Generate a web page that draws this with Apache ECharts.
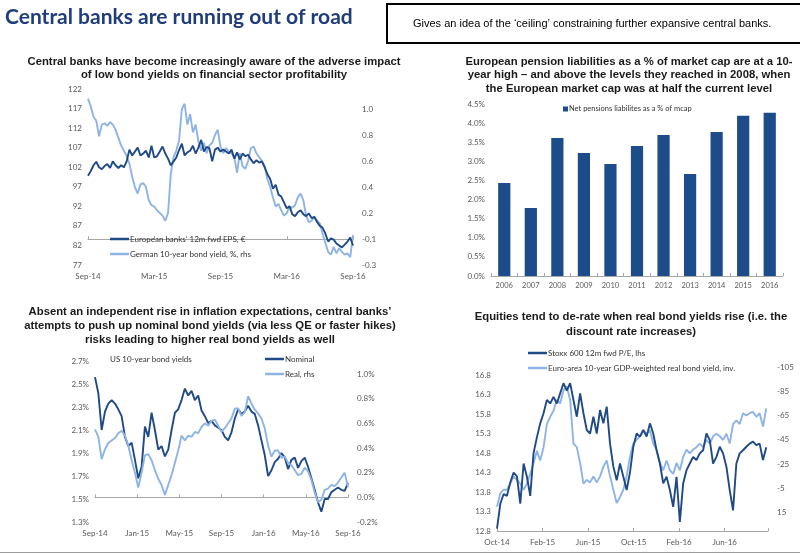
<!DOCTYPE html>
<html>
<head>
    <meta charset="utf-8">
    <title>Central banks are running out of road</title>
    <script src="https://cdn.jsdelivr.net/npm/echarts@6/dist/echarts.min.js"></script>
    <style>
        html, body { margin: 0; padding: 0; background: #fff; }
        #main { width: 800px; height: 554px; }
    </style>
</head>
<body>
    <div id="main"></div>

    <script>
        // ---- top-left: European banks EPS vs German 10y yield (weekly, from Sep-14) ----
        var epsLabels = ['Sep-14', 'Mar-15', 'Sep-15', 'Mar-16', 'Sep-16'];
        var rhs1Labels = ['-0.3', '-0.1', '0.2', '0.4', '0.6', '0.8', '1.0'];
        var bankEps = [
            99.8, 101.0, 102.5, 103.4, 102.0, 101.5, 102.3, 102.8, 101.8, 103.5,
            102.5, 101.8, 102.5, 102.0, 103.5, 106.5, 105.0, 106.0, 107.0, 105.0,
            105.5, 106.2, 104.5, 107.5, 104.5, 104.8, 106.0, 107.3, 105.5, 104.2,
            102.5, 103.5, 104.5, 106.4, 108.0, 105.0, 105.8, 106.2, 107.5, 105.5,
            107.0, 109.0, 106.0, 107.2, 106.8, 103.5, 106.5, 107.0, 106.0, 106.5,
            106.0, 105.5, 106.5, 104.2, 105.8, 104.0, 105.5, 104.8, 105.2, 104.0,
            103.0, 103.8, 103.2, 103.5, 102.0, 100.2, 99.0, 96.5, 97.5, 95.0,
            94.5, 93.0, 91.5, 92.0, 90.0, 89.5, 90.5, 91.0, 90.0, 89.5,
            90.2, 89.0, 89.3, 88.0, 87.0, 86.5, 85.0, 83.0, 83.8, 83.5,
            82.5, 82.0, 81.5, 82.2, 83.0, 84.0, 82.0
        ];
        var bundYield = [
            1.08, 1.02, 0.94, 0.91, 0.79, 0.88, 0.89, 0.87, 0.90, 0.88,
            0.84, 0.78, 0.72, 0.68, 0.64, 0.58, 0.48, 0.40, 0.35, 0.42,
            0.43, 0.40, 0.30, 0.26, 0.25, 0.22, 0.20, 0.18, 0.14, 0.20,
            0.50, 0.63, 0.68, 0.76, 1.00, 1.04, 0.88, 0.96, 0.82, 0.88,
            0.75, 0.68, 0.74, 0.66, 0.72, 0.74, 0.80, 0.84, 0.71, 0.66,
            0.70, 0.67, 0.66, 0.63, 0.51, 0.66, 0.56, 0.54, 0.60, 0.70,
            0.71, 0.66, 0.63, 0.60, 0.56, 0.46, 0.40, 0.32, 0.25, 0.27,
            0.22, 0.18, 0.20, 0.25, 0.24, 0.26, 0.32, 0.35, 0.30, 0.18,
            0.13, 0.14, 0.17, 0.14, 0.12, 0.04, -0.03, -0.10, -0.12, -0.06,
            -0.11, -0.07, -0.10, -0.12, -0.11, -0.14, 0.03
        ];

        // ---- top-right: pension liabilities ----
        var years = ['2006', '2007', '2008', '2009', '2010', '2011', '2012', '2013', '2014', '2015', '2016'];
        var pensionPct = [2.43, 1.78, 3.61, 3.22, 2.93, 3.40, 3.69, 2.67, 3.77, 4.19, 4.27];

        // ---- bottom-left: US 10y nominal vs real ----
        var usLabels = ['Sep-14', 'Jan-15', 'May-15', 'Sep-15', 'Jan-16', 'May-16', 'Sep-16'];
        var usNominal = [
            2.56, 2.42, 2.10, 2.26, 2.33, 2.36, 2.33, 2.28, 2.22, 2.04,
            1.96, 1.99, 1.84, 1.68, 1.78, 2.13, 2.04, 2.25, 2.10, 1.93,
            1.96, 1.87, 1.93, 2.10, 2.25, 2.28, 2.36, 2.46, 2.40, 2.44,
            2.36, 2.40, 2.27, 2.22, 2.16, 2.18, 2.14, 2.12, 2.10, 2.04,
            2.01, 2.08, 2.20, 2.28, 2.24, 2.26, 2.31, 2.26, 2.24, 2.14,
            2.01, 1.88, 1.70, 1.75, 1.82, 1.85, 1.90, 1.86, 1.76, 1.84,
            1.86, 1.77, 1.83, 1.86, 1.78, 1.68, 1.58, 1.47, 1.39, 1.50,
            1.50, 1.56, 1.58, 1.60, 1.58, 1.57, 1.64
        ];
        var usReal = [
            0.55, 0.49, 0.31, 0.39, 0.44, 0.46, 0.48, 0.52, 0.54, 0.50,
            0.42, 0.30, 0.20, 0.08, 0.20, 0.34, 0.35, 0.30, 0.22, 0.15,
            0.10, 0.02, 0.10, 0.18, 0.28, 0.38, 0.50, 0.46, 0.50, 0.49,
            0.53, 0.52, 0.57, 0.60, 0.58, 0.62, 0.63, 0.58, 0.53, 0.56,
            0.60, 0.64, 0.72, 0.72, 0.66, 0.69, 0.82, 0.76, 0.71, 0.68,
            0.64, 0.56, 0.42, 0.33, 0.38, 0.38, 0.32, 0.33, 0.28, 0.26,
            0.22, 0.18, 0.19, 0.24, 0.21, 0.14, 0.04, -0.04, -0.02, 0.06,
            0.07, 0.10, 0.09, 0.12, 0.16, 0.20, 0.08
        ];

        // ---- bottom-right: Stoxx 600 P/E vs euro real yield (inverted) ----
        var peLabels = ['Oct-14', 'Feb-15', 'Jun-15', 'Oct-15', 'Feb-16', 'Jun-16'];
        var stoxxPe = [
            12.86, 13.50, 13.75, 13.70, 14.05, 14.30, 14.20, 13.50, 14.53, 14.19,
            13.70, 14.80, 15.20, 15.56, 15.82, 16.16, 16.07, 16.24, 16.07, 16.33,
            16.59, 16.40, 16.59, 16.16, 15.73, 16.33, 15.82, 15.39, 15.30, 15.73,
            15.30, 15.90, 15.56, 15.99, 15.04, 14.45, 14.10, 14.53, 14.19, 13.85,
            14.30, 14.96, 15.30, 15.22, 15.39, 15.22, 15.56, 15.30, 14.87, 14.53,
            14.02, 14.19, 13.85, 13.42, 14.19, 13.03, 14.02, 14.36, 14.53, 14.70,
            14.62, 14.79, 14.87, 15.30, 15.13, 14.53, 14.70, 14.96, 14.79, 14.45,
            13.85, 13.33, 14.53, 14.79, 14.87, 14.96, 15.04, 15.09, 15.00, 15.04,
            14.62, 14.95
        ];
        var euroRealInv = [
            10, -1, -4, -4, -9, -15, -12, -9, -4, -9,
            -17, -26, -36, -28, -39, -58, -64, -69, -78, -75,
            -86, -89, -78, -42, -39, -26, -9, -12, -10, -15,
            -10, -15, -23, -28, -15, -4, 7, 2, -4, -15,
            -31, -42, -45, -48, -53, -50, -53, -42, -37, -26,
            -20, -28, -20, -17, -26, -20, -31, -37, -34, -37,
            -39, -42, -39, -45, -42, -48, -50, -48, -45, -50,
            -42, -58, -61, -58, -67, -65, -67, -68, -64, -67,
            -56, -71
        ];

        var DARK = '#1f4a86';
        var LIGHT = '#8eb4e3';
        var LABEL = '#595959';
        var AXIS = '#a6a6a6';

        function pairs(values, step) {
            return values.map(function (v, i) { return [i * step, v]; });
        }

        function timeAxis(grid, max, interval, labels) {
            return {
                type: 'value', gridIndex: grid, min: 0, max: max, interval: interval,
                axisLine: { show: true, lineStyle: { color: AXIS } },
                axisTick: { show: true, inside: true, length: 3, lineStyle: { color: AXIS } },
                splitLine: { show: false },
                axisLabel: {
                    color: LABEL, fontSize: 8, fontFamily: 'Lato', margin: 7,
                    showMaxLabel: (labels.length - 1) * interval <= max,
                    formatter: function (v) { return labels[Math.round(v / interval)] || ''; }
                }
            };
        }

        function valAxis(grid, pos, min, max, interval, fmt, extra) {
            var ax = {
                type: 'value', gridIndex: grid, position: pos, min: min, max: max, interval: interval,
                axisLine: { show: false }, axisTick: { show: false }, splitLine: { show: false },
                axisLabel: { color: LABEL, fontSize: 8, fontFamily: 'Lato', margin: pos === 'left' ? 6 : 9, formatter: fmt }
            };
            for (var k in extra) ax[k] = extra[k];
            return ax;
        }

        function noMax(ax) {
            ax.axisLabel.showMaxLabel = false;
            return ax;
        }

        function lineSeries(name, data, x, y, color, z) {
            return {
                name: name, type: 'line', xAxisIndex: x, yAxisIndex: y, data: data,
                showSymbol: false, symbol: 'none', z: z,
                lineStyle: { color: color, width: 1.9 }, itemStyle: { color: color }
            };
        }

        function legendBlock(names, left, top) {
            return {
                data: names, orient: 'vertical', left: left, top: top, icon: 'rect',
                itemWidth: 19, itemHeight: 2.5, itemGap: 7, padding: 0,
                selectedMode: false,
                textStyle: { color: '#333', fontSize: 8, fontFamily: 'Lato', padding: [0, 0, 0, -4] }
            };
        }

        function titleText(text, x, y, lh) {
            return {
                type: 'text', x: x, y: y,
                style: {
                    text: text, align: 'center', verticalAlign: 'top', lineHeight: lh,
                    fontSize: 11.3, fontWeight: 'bold', fontFamily: 'Liberation Sans', fill: '#1a1a1a'
                }
            };
        }

        var chart = echarts.init(document.getElementById('main'), null, { renderer: 'canvas' });

        chart.setOption({
            animation: false,
            backgroundColor: '#fff',
            grid: [
                { left: 88, top: 89, width: 265, height: 176 },
                { left: 491, top: 104, width: 292, height: 172 },
                { left: 95, top: 361, width: 253, height: 161 },
                { left: 497, top: 375, width: 271, height: 156 },
                { left: 497, top: 367, width: 271, height: 164 }
            ],
            xAxis: [
                timeAxis(0, 24, 6, epsLabels),
                {
                    type: 'category', gridIndex: 1, data: years,
                    axisLine: { lineStyle: { color: AXIS } },
                    axisTick: { show: true, inside: true, length: 3, lineStyle: { color: AXIS } },
                    axisLabel: { color: LABEL, fontSize: 7.5, fontFamily: 'Lato', margin: 6 }
                },
                timeAxis(2, 24, 4, usLabels),
                timeAxis(3, 23.8, 4, peLabels),
                { type: 'value', gridIndex: 4, min: 0, max: 23.8, show: false }
            ],
            yAxis: [
                valAxis(0, 'left', 77, 122, 5, function (v) { return String(Math.round(v)); }),
                noMax(valAxis(0, 'right', -0.2, 1.154, 0.2, function (v) {
                    return rhs1Labels[Math.round((v + 0.2) / 0.2)] || '';
                }, {})),
                valAxis(1, 'left', 0, 4.5, 0.5, function (v) { return v.toFixed(1) + '%'; }),
                valAxis(2, 'left', 1.3, 2.7, 0.2, function (v) { return (Math.round(v * 10) / 10).toFixed(1) + '%'; }),
                noMax(valAxis(2, 'right', -0.2, 1.105, 0.2, function (v) { return (Math.round(v * 10) / 10).toFixed(1) + '%'; })),
                valAxis(3, 'left', 12.8, 16.8, 0.5, function (v) { return (Math.round(v * 10) / 10).toFixed(1); }),
                noMax(valAxis(4, 'right', -105, 30, 20, function (v) { return String(Math.round(v)); }, { inverse: true }))
            ],
            legend: [
                legendBlock(['European banks\u2019 12m fwd EPS, \u20ac', 'German 10-year bond yield, %, rhs'], 110, 235),
                {
                    data: ['Net pensions liabilites as a % of mcap'], left: 563, top: 105, icon: 'rect',
                    itemWidth: 5, itemHeight: 5, padding: 0, selectedMode: false,
                    textStyle: { color: '#333', fontSize: 7.5, fontFamily: 'Lato', padding: [0, 0, 0, -4] }
                },
                legendBlock(['Nominal', 'Real, rhs'], 265, 355),
                legendBlock(['Stoxx 600 12m fwd P/E, lhs', 'Euro-area 10-year GDP-weighted real bond yield, inv.'], 528, 349)
            ],
            series: [
                lineSeries('German 10-year bond yield, %, rhs', pairs(bundYield, 0.25), 0, 1, LIGHT, 2),
                lineSeries('European banks\u2019 12m fwd EPS, \u20ac', pairs(bankEps, 0.25), 0, 0, DARK, 3),
                {
                    name: 'Net pensions liabilites as a % of mcap', type: 'bar', xAxisIndex: 1, yAxisIndex: 2,
                    data: pensionPct, barWidth: '46%', itemStyle: { color: '#1d4c8a' }
                },
                lineSeries('Nominal', pairs(usNominal, 24 / 76), 2, 3, DARK, 2),
                lineSeries('Real, rhs', pairs(usReal, 24 / 76), 2, 4, LIGHT, 3),
                lineSeries('Euro-area 10-year GDP-weighted real bond yield, inv.', pairs(euroRealInv, 10 / 34.25), 4, 6, LIGHT, 2),
                lineSeries('Stoxx 600 12m fwd P/E, lhs', pairs(stoxxPe, 10 / 34.25), 3, 5, DARK, 3)
            ],
            graphic: [
                {
                    type: 'text', x: 5, y: 17,
                    style: {
                        text: 'Central banks are running out of road', verticalAlign: 'middle',
                        fontSize: 21, fontWeight: 'bold', fontFamily: 'Lato', fill: '#1f3c7c'
                    }
                },
                {
                    type: 'rect', shape: { x: 387, y: 4, width: 420, height: 39 },
                    style: { fill: '#fff', stroke: '#000', lineWidth: 2 }
                },
                {
                    type: 'text', x: 413, y: 24,
                    style: {
                        text: 'Gives an idea of the \u2018ceiling\u2019 constraining further expansive central banks.',
                        verticalAlign: 'middle', fontSize: 11, fontFamily: 'Liberation Sans', fill: '#000'
                    }
                },
                titleText('Central banks have become increasingly aware of the adverse impact\nof low bond yields on financial sector profitability', 214, 55, 13),
                titleText('European pension liabilities as a % of market cap are at a 10-\nyear high \u2013 and above the levels they reached in 2008, when\nthe European market cap was at half the current level', 629, 55, 13.5),
                titleText('Absent an independent rise in inflation expectations, central banks\u2019\nattempts to push up nominal bond yields (via less QE or faster hikes)\nrisks leading to higher real bond yields as well', 210, 305, 14),
                titleText('Equities tend to de-rate when real bond yields rise (i.e. the\ndiscount rate increases)', 631, 309, 15),
                {
                    type: 'text', x: 110, y: 359,
                    style: { text: 'US 10-year bond yields', verticalAlign: 'middle', fontSize: 8, fontFamily: 'Lato', fill: '#333' }
                },
                {
                    type: 'line', shape: { x1: 0, y1: 552.5, x2: 800, y2: 552.5 },
                    style: { stroke: '#9a9a9a', lineWidth: 1 }
                }
            ]
        });
    </script>
</body>
</html>
